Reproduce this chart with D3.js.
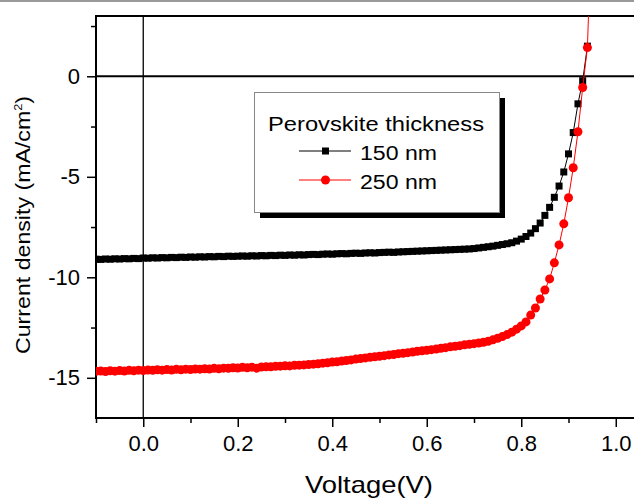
<!DOCTYPE html>
<html>
<head>
<meta charset="utf-8">
<script src="https://cdn.jsdelivr.net/npm/d3@7"></script>
<style>
  body { margin: 0; background: #fff; }
  svg { display: block; font-family: "Liberation Sans", Arial, sans-serif; }
</style>
</head>
<body>
<svg id="chart" width="634" height="498"></svg>
<script>
// voltage sweep (V)
const voltage = [
  -0.10, -0.09, -0.08, -0.07, -0.06, -0.05, -0.04, -0.03, -0.02, -0.01,
  0.00, 0.01, 0.02, 0.03, 0.04, 0.05, 0.06, 0.07, 0.08, 0.09,
  0.10, 0.11, 0.12, 0.13, 0.14, 0.15, 0.16, 0.17, 0.18, 0.19,
  0.20, 0.21, 0.22, 0.23, 0.24, 0.25, 0.26, 0.27, 0.28, 0.29,
  0.30, 0.31, 0.32, 0.33, 0.34, 0.35, 0.36, 0.37, 0.38, 0.39,
  0.40, 0.41, 0.42, 0.43, 0.44, 0.45, 0.46, 0.47, 0.48, 0.49,
  0.50, 0.51, 0.52, 0.53, 0.54, 0.55, 0.56, 0.57, 0.58, 0.59,
  0.60, 0.61, 0.62, 0.63, 0.64, 0.65, 0.66, 0.67, 0.68, 0.69,
  0.70, 0.71, 0.72, 0.73, 0.74, 0.75, 0.76, 0.77, 0.78, 0.79,
  0.80, 0.81, 0.82, 0.83, 0.84, 0.85, 0.86, 0.87, 0.88, 0.89,
  0.90, 0.91, 0.92, 0.93, 0.94, 0.95
];

// current density (mA/cm2), 150 nm film
const j150 = [
  -9.10, -9.11, -9.09, -9.10, -9.08, -9.09, -9.07, -9.08, -9.06, -9.07,
  -9.04, -9.05, -9.03, -9.04, -9.02, -9.03, -9.01, -9.02, -9.00, -9.01,
  -8.99, -9.00, -8.98, -8.99, -8.97, -8.98, -8.96, -8.97, -8.95, -8.96,
  -8.95, -8.94, -8.95, -8.93, -8.94, -8.92, -8.93, -8.91, -8.92, -8.90,
  -8.91, -8.89, -8.90, -8.88, -8.89, -8.87, -8.86, -8.87, -8.85, -8.84,
  -8.85, -8.83, -8.82, -8.83, -8.81, -8.80, -8.81, -8.79, -8.78, -8.79,
  -8.77, -8.76, -8.75, -8.76, -8.74, -8.73, -8.72, -8.71, -8.70, -8.69,
  -8.68, -8.67, -8.66, -8.65, -8.64, -8.63, -8.62, -8.61, -8.60, -8.59,
  -8.57, -8.54, -8.51, -8.48, -8.45, -8.41, -8.37, -8.33, -8.28, -8.20,
  -8.10, -7.97, -7.80, -7.58, -7.30, -6.92, -6.52, -6.02, -5.46, -4.76,
  -3.86, -2.80, -1.37, -0.22, 1.50
];

// current density (mA/cm2), 250 nm film
const j250 = [
  -14.68, -14.66, -14.69, -14.65, -14.67, -14.64, -14.66, -14.63, -14.65, -14.62,
  -14.64, -14.61, -14.63, -14.60, -14.62, -14.59, -14.61, -14.58, -14.60, -14.57,
  -14.59, -14.56, -14.57, -14.55, -14.56, -14.53, -14.55, -14.52, -14.53, -14.50,
  -14.51, -14.48, -14.50, -14.47, -14.52, -14.46, -14.45, -14.45, -14.43, -14.42,
  -14.40, -14.41, -14.38, -14.37, -14.36, -14.34, -14.32, -14.30, -14.27, -14.25,
  -14.22, -14.20, -14.17, -14.14, -14.11, -14.07, -14.04, -14.01, -13.98, -13.95,
  -13.93, -13.90, -13.86, -13.84, -13.80, -13.78, -13.75, -13.72, -13.68, -13.66,
  -13.63, -13.60, -13.57, -13.53, -13.50, -13.46, -13.43, -13.40, -13.36, -13.33,
  -13.30, -13.27, -13.23, -13.18, -13.11, -13.03, -12.95, -12.85, -12.73, -12.58,
  -12.42, -12.22, -11.88, -11.53, -11.08, -10.63, -10.08, -9.28, -8.39, -7.34,
  -6.04, -4.55, -2.76, -0.56, 1.43, 8.50
];

const xMajor = [0, 0.2, 0.4, 0.6, 0.8, 1.0];
const xMinor = [-0.1, 0.1, 0.3, 0.5, 0.7, 0.9];
const yMajor = [0, -5, -10, -15];
const yMinor = [2.5, -2.5, -7.5, -12.5];

const svg = d3.select("#chart");
const plotLeft = 96, plotTop = 16, plotRight = 634, plotBottom = 418;

const x = d3.scaleLinear().domain([-0.1, 1.0386]).range([plotLeft, plotRight]);
const y = d3.scaleLinear().domain([-17, 3]).range([plotBottom, plotTop]);

// grey strip at the very top of the screenshot
svg.append("rect").attr("x", 0).attr("y", 0).attr("width", 634).attr("height", 2).attr("fill", "#9a9a9a");

svg.append("defs").append("clipPath").attr("id", "plot-clip")
  .append("rect").attr("x", plotLeft).attr("y", plotTop)
  .attr("width", plotRight - plotLeft).attr("height", plotBottom - plotTop);

// zero lines
svg.append("line")
  .attr("x1", plotLeft).attr("x2", plotRight).attr("y1", y(0)).attr("y2", y(0))
  .attr("stroke", "#000").attr("stroke-width", 2);
svg.append("line")
  .attr("x1", x(0)).attr("x2", x(0)).attr("y1", plotTop).attr("y2", plotBottom)
  .attr("stroke", "#000").attr("stroke-width", 1.3);

// axes
const xAxis = svg.append("g").attr("transform", `translate(0,${plotBottom})`)
  .call(d3.axisBottom(x).tickValues(xMajor).tickSize(9).tickPadding(8).tickFormat(d3.format(".1f")));
svg.append("g").attr("transform", `translate(0,${plotBottom})`)
  .call(d3.axisBottom(x).tickValues(xMinor).tickSize(5).tickFormat(""));
const yAxis = svg.append("g").attr("transform", `translate(${plotLeft},0)`)
  .call(d3.axisLeft(y).tickValues(yMajor).tickSize(9).tickPadding(7).tickFormat(d => d.toString()));
svg.append("g").attr("transform", `translate(${plotLeft},0)`)
  .call(d3.axisLeft(y).tickValues(yMinor).tickSize(5).tickFormat(""));

svg.selectAll(".domain").remove();
svg.selectAll(".tick line").attr("stroke", "#000").attr("stroke-width", 1.5);
xAxis.selectAll("text").attr("font-size", 22).attr("fill", "#000")
  .attr("font-family", "Liberation Sans, Arial, sans-serif");
yAxis.selectAll("text").attr("font-size", 22).attr("fill", "#000")
  .attr("font-family", "Liberation Sans, Arial, sans-serif");

// frame: left, bottom, top
svg.append("path")
  .attr("d", `M${plotRight},${plotTop}H${plotLeft}V${plotBottom}H${plotRight}`)
  .attr("fill", "none").attr("stroke", "#000").attr("stroke-width", 2);

// series
const series = [
  { name: "150 nm", values: j150, color: "#000", shape: "square" },
  { name: "250 nm", values: j250, color: "#ff0000", shape: "circle" }
];

const line = d3.line().x(d => x(d.v)).y(d => y(d.j));
const plot = svg.append("g").attr("clip-path", "url(#plot-clip)");

series.forEach(s => {
  const pts = s.values.map((j, i) => ({ v: voltage[i], j: j }));
  plot.append("path").datum(pts)
    .attr("d", line).attr("fill", "none").attr("stroke", s.color).attr("stroke-width", 1);
  if (s.shape === "square") {
    plot.selectAll(null).data(pts).enter().append("rect")
      .attr("x", d => x(d.v) - 3.5).attr("y", d => y(d.j) - 3.5)
      .attr("width", 7).attr("height", 7).attr("fill", s.color);
  } else {
    plot.selectAll(null).data(pts).enter().append("circle")
      .attr("cx", d => x(d.v)).attr("cy", d => y(d.j)).attr("r", 4.5).attr("fill", s.color);
  }
});

// legend
const lg = svg.append("g");
lg.append("rect").attr("x", 260).attr("y", 98).attr("width", 245).attr("height", 120).attr("fill", "#000");
lg.append("rect").attr("x", 254.5).attr("y", 92.5).attr("width", 245).attr("height", 120)
  .attr("fill", "#fff").attr("stroke", "#888").attr("stroke-width", 1);
lg.append("text").attr("x", 268).attr("y", 131).attr("font-size", 20)
  .attr("textLength", 216).attr("lengthAdjust", "spacingAndGlyphs")
  .text("Perovskite thickness");

series.forEach((s, i) => {
  const ly = 151 + i * 29;
  lg.append("line").attr("x1", 299).attr("x2", 351).attr("y1", ly).attr("y2", ly)
    .attr("stroke", s.color).attr("stroke-width", 1);
  if (s.shape === "square") {
    lg.append("rect").attr("x", 322).attr("y", ly - 3.5).attr("width", 7).attr("height", 7).attr("fill", s.color);
  } else {
    lg.append("circle").attr("cx", 325.5).attr("cy", ly).attr("r", 4.5).attr("fill", s.color);
  }
  lg.append("text").attr("x", 360).attr("y", ly + 9).attr("font-size", 20)
    .attr("textLength", 77).attr("lengthAdjust", "spacingAndGlyphs")
    .text(s.name);
});

// axis titles
const yTitle = svg.append("text")
  .attr("transform", "translate(30,225) rotate(-90)")
  .attr("text-anchor", "middle").attr("font-size", 20)
  .attr("textLength", 258).attr("lengthAdjust", "spacingAndGlyphs");
yTitle.append("tspan").text("Current density (mA/cm");
yTitle.append("tspan").attr("font-size", 11).attr("dy", -8).text("2");
yTitle.append("tspan").attr("dy", 8).text(")");

svg.append("text")
  .attr("x", 369).attr("y", 493).attr("text-anchor", "middle").attr("font-size", 24)
  .attr("textLength", 128).attr("lengthAdjust", "spacingAndGlyphs")
  .text("Voltage(V)");
</script>
</body>
</html>
